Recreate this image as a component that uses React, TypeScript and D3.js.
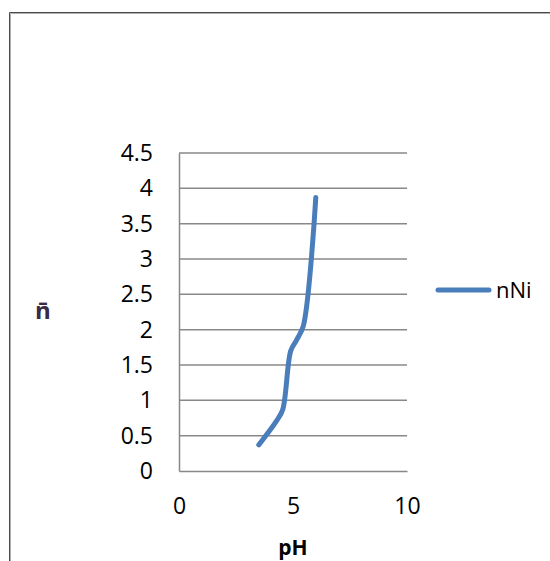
import React, { useEffect, useRef } from 'react';
import * as d3 from 'd3';

// values
const phValues = [3.5, 4.3, 4.55, 4.9, 5.15, 5.45, 6.0];
const nValues = [0.37, 0.72, 0.87, 1.7, 1.85, 2.05, 3.87];
const yTicks = [0, 0.5, 1, 1.5, 2, 2.5, 3, 3.5, 4, 4.5];
const xTicks = [0, 5, 10];
const seriesName = 'nNi';
const xTitle = 'pH';
const yTitle = 'n\u0304';

const width = 550;
const height = 561;
const font = '"Open Sans", "Liberation Sans", sans-serif';

function App() {
  const ref = useRef<SVGSVGElement>(null);

  useEffect(() => {
    const svg = d3.select(ref.current);
    svg.selectAll('*').remove();

    const x = d3.scaleLinear().domain([0, 10]).range([179, 407]);
    const y = d3.scaleLinear().domain([0, 4.5]).range([471, 153]);

    // outer chart frame (left and top edges only)
    svg.append('path')
      .attr('d', `M10.5,${height} V13.5 H${width}`)
      .attr('fill', 'none')
      .attr('stroke', '#b0b0b0')
      .attr('stroke-width', 1);
    svg.append('path')
      .attr('d', `M9.5,${height} V12.5 H${width}`)
      .attr('fill', 'none')
      .attr('stroke', '#4a4a4a')
      .attr('stroke-width', 1);

    // horizontal gridlines
    svg.append('g')
      .selectAll('line')
      .data(yTicks.filter((d) => d > 0))
      .join('line')
      .attr('x1', x(0))
      .attr('x2', x(10))
      .attr('y1', (d) => y(d))
      .attr('y2', (d) => y(d))
      .attr('stroke', '#888')
      .attr('stroke-width', 1.5);

    // axes
    const xAxis = d3.axisBottom(x).tickValues(xTicks).tickSize(0).tickPadding(27).tickFormat(d3.format('d'));
    const yAxis = d3.axisLeft(y).tickValues(yTicks).tickSize(0).tickPadding(26).tickFormat((d) => String(d));

    const gx = svg.append('g').attr('transform', `translate(0,${y(0)})`).call(xAxis);
    const gy = svg.append('g').attr('transform', `translate(${x(0)},0)`).call(yAxis);
    [gx, gy].forEach((g) => {
      g.select('.domain').attr('stroke', '#888').attr('stroke-width', 1.5);
      g.selectAll('text').attr('fill', '#000').attr('font-family', font).attr('font-size', 23);
    });

    // axis titles
    svg.append('text')
      .attr('x', 293)
      .attr('y', 555)
      .attr('text-anchor', 'middle')
      .attr('font-family', font)
      .attr('font-weight', 'bold')
      .attr('font-size', 21)
      .text(xTitle);

    svg.append('text')
      .attr('x', 43)
      .attr('y', 319)
      .attr('text-anchor', 'middle')
      .attr('font-family', font)
      .attr('font-weight', 'bold')
      .attr('font-size', 24)
      .attr('fill', '#3a2a4a')
      .text(yTitle);

    // series line
    const line = d3.line<number>()
      .x((i) => x(phValues[i]))
      .y((i) => y(nValues[i]))
      .curve(d3.curveCatmullRom.alpha(0.5));

    svg.append('path')
      .datum(d3.range(phValues.length))
      .attr('d', line)
      .attr('fill', 'none')
      .attr('stroke', '#4a7ebb')
      .attr('stroke-width', 5)
      .attr('stroke-linecap', 'round')
      .attr('stroke-linejoin', 'round');

    // legend
    const lg = svg.append('g').attr('transform', 'translate(438,290)');
    lg.append('line')
      .attr('x1', 0)
      .attr('x2', 51)
      .attr('stroke', '#4a7ebb')
      .attr('stroke-width', 5)
      .attr('stroke-linecap', 'round');
    lg.append('text')
      .attr('x', 58)
      .attr('dy', '0.35em')
      .attr('font-family', font)
      .attr('font-size', 22)
      .text(seriesName);
  }, []);

  return (
    <svg
      ref={ref}
      width={width}
      height={height}
      style={{ position: 'absolute', left: 0, top: 0, background: '#fff' }}
    />
  );
}

export default App;
